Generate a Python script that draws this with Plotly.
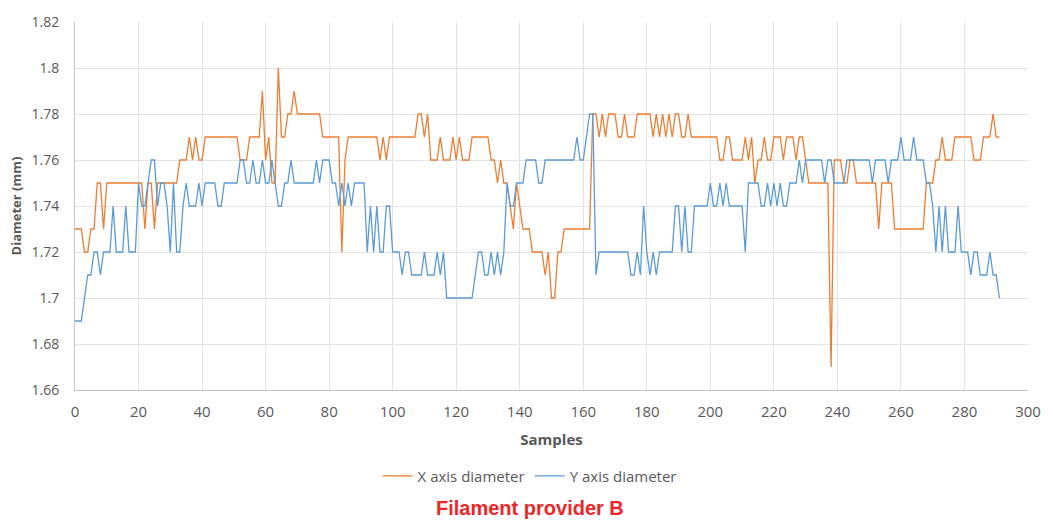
import plotly.graph_objects as go

# Filament diameter readings, one value per sample (mm)
x_axis_diameter = [
    1.73, 1.73, 1.73, 1.72, 1.72, 1.73, 1.73, 1.75, 1.75, 1.73,
    1.75, 1.75, 1.75, 1.75, 1.75, 1.75, 1.75, 1.75, 1.75, 1.75,
    1.75, 1.75, 1.73, 1.75, 1.75, 1.73, 1.75, 1.75, 1.75, 1.75,
    1.75, 1.75, 1.75, 1.76, 1.76, 1.76, 1.77, 1.76, 1.77, 1.76,
    1.76, 1.77, 1.77, 1.77, 1.77, 1.77, 1.77, 1.77, 1.77, 1.77,
    1.77, 1.77, 1.76, 1.76, 1.76, 1.77, 1.77, 1.77, 1.77, 1.79,
    1.76, 1.77, 1.75, 1.75, 1.80, 1.77, 1.77, 1.78, 1.78, 1.79,
    1.78, 1.78, 1.78, 1.78, 1.78, 1.78, 1.78, 1.78, 1.77, 1.77,
    1.77, 1.77, 1.77, 1.77, 1.72, 1.76, 1.77, 1.77, 1.77, 1.77,
    1.77, 1.77, 1.77, 1.77, 1.77, 1.77, 1.76, 1.77, 1.76, 1.77,
    1.77, 1.77, 1.77, 1.77, 1.77, 1.77, 1.77, 1.77, 1.78, 1.78,
    1.77, 1.78, 1.76, 1.76, 1.76, 1.77, 1.76, 1.76, 1.76, 1.77,
    1.76, 1.77, 1.76, 1.76, 1.76, 1.77, 1.77, 1.77, 1.77, 1.77,
    1.77, 1.76, 1.76, 1.75, 1.76, 1.75, 1.75, 1.74, 1.73, 1.75,
    1.74, 1.73, 1.73, 1.73, 1.72, 1.72, 1.72, 1.72, 1.71, 1.72,
    1.70, 1.70, 1.72, 1.72, 1.73, 1.73, 1.73, 1.73, 1.73, 1.73,
    1.73, 1.73, 1.73, 1.78, 1.78, 1.77, 1.78, 1.77, 1.78, 1.78,
    1.78, 1.77, 1.77, 1.78, 1.77, 1.77, 1.77, 1.78, 1.78, 1.78,
    1.78, 1.78, 1.77, 1.78, 1.77, 1.78, 1.77, 1.78, 1.77, 1.78,
    1.78, 1.77, 1.77, 1.78, 1.77, 1.77, 1.77, 1.77, 1.77, 1.77,
    1.77, 1.77, 1.77, 1.76, 1.76, 1.77, 1.77, 1.76, 1.76, 1.76,
    1.76, 1.77, 1.76, 1.77, 1.75, 1.76, 1.76, 1.77, 1.76, 1.76,
    1.77, 1.77, 1.77, 1.76, 1.77, 1.77, 1.77, 1.76, 1.77, 1.77,
    1.76, 1.75, 1.75, 1.75, 1.75, 1.75, 1.75, 1.75, 1.67, 1.76,
    1.76, 1.76, 1.75, 1.75, 1.76, 1.76, 1.75, 1.75, 1.75, 1.75,
    1.75, 1.75, 1.75, 1.73, 1.75, 1.75, 1.75, 1.75, 1.73, 1.73,
    1.73, 1.73, 1.73, 1.73, 1.73, 1.73, 1.73, 1.73, 1.75, 1.75,
    1.75, 1.76, 1.76, 1.77, 1.76, 1.76, 1.76, 1.77, 1.77, 1.77,
    1.77, 1.77, 1.77, 1.76, 1.76, 1.76, 1.77, 1.77, 1.77, 1.78,
    1.77, 1.77,
]

y_axis_diameter = [
    1.69, 1.69, 1.69, 1.70, 1.71, 1.71, 1.72, 1.72, 1.71, 1.72,
    1.72, 1.72, 1.74, 1.72, 1.72, 1.72, 1.74, 1.72, 1.72, 1.72,
    1.75, 1.74, 1.74, 1.75, 1.76, 1.76, 1.74, 1.75, 1.75, 1.74,
    1.72, 1.75, 1.72, 1.72, 1.74, 1.75, 1.74, 1.74, 1.74, 1.75,
    1.74, 1.75, 1.75, 1.75, 1.75, 1.74, 1.74, 1.75, 1.75, 1.75,
    1.75, 1.75, 1.76, 1.76, 1.75, 1.75, 1.76, 1.75, 1.75, 1.76,
    1.75, 1.75, 1.76, 1.75, 1.74, 1.74, 1.75, 1.75, 1.76, 1.75,
    1.75, 1.75, 1.75, 1.75, 1.75, 1.75, 1.76, 1.75, 1.76, 1.76,
    1.76, 1.75, 1.75, 1.74, 1.75, 1.74, 1.75, 1.74, 1.75, 1.75,
    1.75, 1.75, 1.72, 1.74, 1.72, 1.74, 1.72, 1.72, 1.74, 1.74,
    1.72, 1.72, 1.72, 1.71, 1.72, 1.72, 1.71, 1.71, 1.71, 1.71,
    1.72, 1.71, 1.71, 1.71, 1.72, 1.71, 1.72, 1.70, 1.70, 1.70,
    1.70, 1.70, 1.70, 1.70, 1.70, 1.70, 1.71, 1.72, 1.72, 1.71,
    1.71, 1.72, 1.71, 1.72, 1.71, 1.72, 1.75, 1.74, 1.74, 1.75,
    1.75, 1.75, 1.76, 1.76, 1.76, 1.76, 1.75, 1.75, 1.76, 1.76,
    1.76, 1.76, 1.76, 1.76, 1.76, 1.76, 1.76, 1.76, 1.77, 1.76,
    1.76, 1.77, 1.78, 1.78, 1.71, 1.72, 1.72, 1.72, 1.72, 1.72,
    1.72, 1.72, 1.72, 1.72, 1.72, 1.71, 1.71, 1.72, 1.71, 1.74,
    1.72, 1.71, 1.72, 1.71, 1.72, 1.72, 1.72, 1.72, 1.72, 1.74,
    1.74, 1.72, 1.74, 1.72, 1.72, 1.74, 1.74, 1.74, 1.74, 1.74,
    1.75, 1.74, 1.74, 1.75, 1.74, 1.75, 1.74, 1.74, 1.74, 1.74,
    1.74, 1.72, 1.75, 1.75, 1.75, 1.75, 1.74, 1.74, 1.75, 1.74,
    1.75, 1.74, 1.75, 1.74, 1.74, 1.75, 1.75, 1.75, 1.76, 1.75,
    1.76, 1.76, 1.76, 1.76, 1.76, 1.76, 1.75, 1.76, 1.76, 1.75,
    1.75, 1.75, 1.75, 1.76, 1.76, 1.76, 1.76, 1.76, 1.76, 1.76,
    1.76, 1.75, 1.76, 1.76, 1.76, 1.76, 1.75, 1.76, 1.76, 1.76,
    1.77, 1.76, 1.76, 1.76, 1.77, 1.76, 1.76, 1.76, 1.75, 1.75,
    1.74, 1.72, 1.74, 1.72, 1.74, 1.72, 1.72, 1.72, 1.74, 1.72,
    1.72, 1.72, 1.71, 1.72, 1.72, 1.71, 1.71, 1.71, 1.72, 1.71,
    1.71, 1.70,
]

assert len(x_axis_diameter) == len(y_axis_diameter) == 292, (
    len(x_axis_diameter), len(y_axis_diameter))

samples = list(range(len(x_axis_diameter)))

x_ticks = list(range(0, 301, 20))
y_ticks = [1.66, 1.68, 1.70, 1.72, 1.74, 1.76, 1.78, 1.80, 1.82]
y_tick_text = ["1.66", "1.68", "1.7", "1.72", "1.74", "1.76", "1.78", "1.8", "1.82"]

ORANGE = "#ED7D31"
BLUE = "#5B9BD5"
TEXT = "#595959"
GRID = "#E3E3E3"
FONT = "Open Sans, Liberation Sans, sans-serif"

fig = go.Figure()
fig.add_trace(go.Scatter(
    x=samples, y=x_axis_diameter, mode="lines", name="X axis diameter",
    line=dict(color=ORANGE, width=1.3),
))
fig.add_trace(go.Scatter(
    x=samples, y=y_axis_diameter, mode="lines", name="Y axis diameter",
    line=dict(color=BLUE, width=1.3),
))

fig.update_layout(
    width=1053, height=526,
    margin=dict(l=75, r=14, t=14, b=136),
    paper_bgcolor="white", plot_bgcolor="white",
    font=dict(family=FONT, color=TEXT, size=14),
    showlegend=True,
    legend=dict(
        orientation="h", x=0.477, xanchor="center", y=-0.234, yanchor="middle",
        font=dict(size=15, color=TEXT), itemwidth=30, tracegroupgap=0,
    ),
    xaxis=dict(
        range=[0, 300], tickvals=x_ticks, showgrid=True, gridcolor=GRID, gridwidth=1,
        zeroline=False, showline=True, linecolor="#C8C8C8", linewidth=1,
        ticks="", ticklabelstandoff=8, tickfont=dict(size=15, color=TEXT),
        title=dict(text="<b>Samples</b>", font=dict(size=15, color=TEXT), standoff=14),
    ),
    yaxis=dict(
        range=[1.66, 1.82], tickvals=y_ticks, ticktext=y_tick_text,
        showgrid=True, gridcolor=GRID, gridwidth=1,
        zeroline=False, showline=True, linecolor="#C8C8C8", linewidth=1,
        ticks="", ticklabelstandoff=12, tickfont=dict(size=14, color=TEXT),
        title=dict(text="<b>Diameter (mm)</b>", font=dict(size=13, color=TEXT), standoff=6),
    ),
    annotations=[
        dict(
            text="<b>Filament provider B</b>", xref="paper", yref="paper",
            x=0.477, y=-0.322, xanchor="center", yanchor="middle", showarrow=False,
            font=dict(family="Liberation Sans, Arial, sans-serif", size=20, color="#EE2528"),
        ),
    ],
)

fig.write_html("out.html")
